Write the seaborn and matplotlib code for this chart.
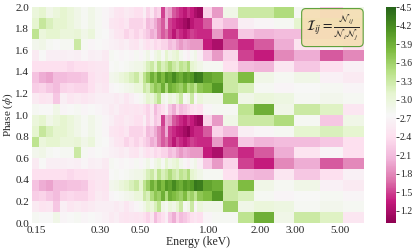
import numpy as np
import pandas as pd
import matplotlib
matplotlib.use("Agg")
import matplotlib.pyplot as plt
import seaborn as sns

# channels grouped into each energy bin (low -> high energy)
bin_chan = [7] * 11 + [5] * 6 + [4, 3, 4, 4, 3, 4, 4, 3, 4, 4, 3, 4, 4, 3, 4, 3] + \
           [6, 9, 11, 15, 16, 20, 20, 26, 23, 21]

# ratio I_ij per phase bin (phase 0.0-0.1 ... 0.9-1.0), one value per energy bin
phase_0 = [2.8, 2.75, 2.75, 2.9, 2.7, 2.75, 2.8, 2.7, 2.75, 2.7, 2.65,
           2.55, 2.6, 2.5, 2.45, 2.5, 2.45,
           2.5, 2.4, 2.3, 2.5, 2.1, 2.3, 2.4, 2.6, 2.2, 2.0, 2.3, 2.1, 2.2, 2.3, 2.4, 2.5,
           2.4, 2.7, 2.8, 2.8, 3.4, 3.9, 2.9, 3.3, 3.15, 2.5]
phase_1 = [2.55, 2.45, 2.5, 2.2, 2.6, 2.5, 2.55, 2.5, 2.55, 2.6, 2.6,
           2.6, 2.55, 2.6, 2.5, 2.6, 2.7,
           2.8, 2.9, 3.1, 3.0, 3.2, 3.4, 2.9, 2.8, 3.0, 2.9, 3.1, 3.3, 2.8, 2.9, 3.3, 2.7,
           3.0, 2.9, 2.9, 3.6, 2.9, 3.0, 2.95, 2.8, 2.85, 2.8]
phase_2 = [2.25, 2.3, 2.2, 2.1, 2.3, 2.35, 2.3, 2.3, 2.4, 2.55, 2.5,
           2.7, 2.75, 2.8, 2.85, 2.9, 3.0,
           3.0, 3.3, 3.2, 3.5, 3.7, 3.6, 3.9, 3.5, 3.9, 3.8, 3.7, 3.6, 3.8, 3.5, 3.6, 3.4,
           3.7, 3.8, 4.1, 3.3, 3.2, 2.8, 2.7, 2.75, 2.8, 2.7]
phase_3 = [2.15, 2.0, 1.95, 2.1, 2.1, 2.15, 2.15, 2.2, 2.4, 2.5, 2.45,
           2.85, 2.9, 3.0, 3.1, 3.2, 3.3,
           3.1, 3.4, 3.6, 3.9, 3.7, 4.0, 3.8, 4.1, 4.0, 4.2, 4.0, 3.9, 4.1, 4.0, 4.1, 4.35,
           4.3, 4.0, 3.9, 3.3, 3.8, 2.9, 2.8, 2.9, 2.65, 2.55]
phase_4 = [2.4, 2.4, 2.4, 2.4, 2.4, 2.35, 2.4, 2.4, 2.45, 2.5, 2.5,
           2.75, 2.8, 2.75, 2.8, 2.85, 2.9,
           2.9, 3.0, 3.2, 3.3, 3.1, 3.4, 3.2, 3.3, 3.5, 3.3, 3.2, 3.4, 3.3, 3.5, 3.1, 3.0,
           2.9, 2.8, 2.8, 2.4, 2.1, 2.05, 2.5, 2.2, 2.4, 2.65]
phase_5 = [2.55, 2.75, 2.6, 2.6, 2.6, 2.65, 2.6, 2.7, 2.6, 2.65, 2.55,
           2.8, 2.75, 2.7, 2.75, 2.7, 2.8,
           2.7, 2.8, 2.9, 2.75, 2.9, 3.0, 2.8, 3.1, 2.9, 3.0, 3.1, 2.85, 2.7, 2.6, 2.8, 2.9,
           2.6, 2.2, 1.9, 2.3, 1.5, 1.35, 1.8, 2.0, 1.6, 1.8]
phase_6 = [2.85, 2.9, 2.8, 2.75, 2.8, 2.8, 3.3, 2.8, 2.7, 2.75, 2.7,
           2.65, 2.6, 2.55, 2.6, 2.5, 2.45,
           2.6, 2.5, 2.4, 2.5, 2.35, 2.4, 2.3, 2.3, 2.1, 2.2, 2.0, 1.9, 2.0, 1.95, 1.9, 1.9,
           1.9, 1.35, 1.2, 1.6, 1.4, 1.6, 2.0, 2.45, 2.7, 2.4]
phase_7 = [3.4, 3.0, 3.1, 3.1, 3.0, 3.0, 3.05, 2.9, 3.0, 2.8, 2.75,
           2.6, 2.5, 2.45, 2.3, 2.4, 2.3,
           2.4, 2.3, 2.2, 2.0, 2.1, 1.8, 1.6, 1.7, 1.5, 1.3, 1.5, 1.4, 1.3, 1.4, 1.5, 1.45,
           1.4, 1.4, 1.9, 1.5, 2.2, 2.05, 2.1, 2.1, 2.2, 2.4]
phase_8 = [3.1, 3.35, 3.2, 3.1, 3.1, 3.0, 2.9, 2.8, 2.9, 2.8, 2.7,
           2.5, 2.45, 2.4, 2.5, 2.3, 2.3,
           2.3, 2.4, 2.1, 2.2, 2.0, 1.8, 1.6, 2.0, 1.5, 1.4, 1.3, 1.25, 1.15, 1.05, 1.3, 1.4,
           1.4, 1.6, 2.3, 2.1, 2.6, 2.7, 2.8, 3.1, 3.2, 3.1]
phase_9 = [3.0, 3.1, 2.9, 3.0, 3.1, 3.0, 2.9, 2.8, 2.9, 2.8, 2.7,
           2.6, 2.5, 2.45, 2.55, 2.5, 2.4,
           2.4, 2.6, 2.3, 2.5, 2.2, 2.3, 1.5, 2.0, 1.9, 1.6, 1.5, 1.4, 1.3, 1.45, 1.35, 1.2,
           1.1, 2.3, 1.9, 2.9, 3.3, 3.3, 3.5, 2.8, 2.2, 2.9]

tick_chan = [4, 68, 108, 176, 228, 263, 307]
tick_kev = [0.15, 0.30, 0.50, 1.00, 2.00, 3.00, 5.00]
phase_ticks = [0.0, 0.2, 0.4, 0.6, 0.8, 1.0, 1.2, 1.4, 1.6, 1.8, 2.0]
cbar_ticks = [1.2, 1.5, 1.8, 2.1, 2.4, 2.7, 3.0, 3.3, 3.6, 3.9, 4.2, 4.5]

rows = np.array([phase_0, phase_1, phase_2, phase_3, phase_4,
                 phase_5, phase_6, phase_7, phase_8, phase_9])
grid = np.repeat(rows, bin_chan, axis=1)
grid = np.vstack([grid, grid])  # two cycles of phase
df = pd.DataFrame(grid)

sns.set_style("white")
plt.rcParams["font.family"] = ["Liberation Serif", "DejaVu Serif"]
plt.rcParams["mathtext.fontset"] = "stix"

fig = plt.figure(figsize=(4.15, 2.52), dpi=100)
ax = fig.add_axes([0.077, 0.115, 0.80, 0.857])
cax = fig.add_axes([0.930, 0.115, 0.024, 0.857])

sns.heatmap(df, cmap="PiYG", vmin=1.0, vmax=4.5, ax=ax, cbar_ax=cax,
            xticklabels=False, yticklabels=False, rasterized=True)
ax.invert_yaxis()

ax.set_xticks([c + 0.5 for c in tick_chan])
ax.set_xticklabels(["%.2f" % e for e in tick_kev], rotation=0, fontsize=8)
ax.set_yticks([p * 10 for p in phase_ticks])
ax.set_yticklabels(["%.1f" % p for p in phase_ticks], rotation=0, fontsize=8)
ax.tick_params(length=0, pad=2)
ax.set_xlabel("Energy (keV)", fontsize=8.5, labelpad=1)
ax.set_ylabel(r"Phase ($\phi$)", fontsize=8)
ax.yaxis.set_label_coords(-0.052, 0.5)

ax.text(0.905, 0.905, r"$\mathcal{I}_{ij} = \frac{\mathcal{N}_{ij}}{\mathcal{N}_i\mathcal{N}_j}$",
        transform=ax.transAxes, ha="center", va="center", fontsize=10,
        bbox=dict(boxstyle="round,pad=0.3", facecolor="#f5deb3", edgecolor="#4d9a2a",
                  alpha=0.9, linewidth=0.8))

cax.set_yticks(cbar_ticks)
cax.set_yticklabels(["%.1f" % t for t in cbar_ticks], fontsize=7)
cax.tick_params(length=2, width=0.6, pad=1)

fig.savefig("out.png", dpi=100)
